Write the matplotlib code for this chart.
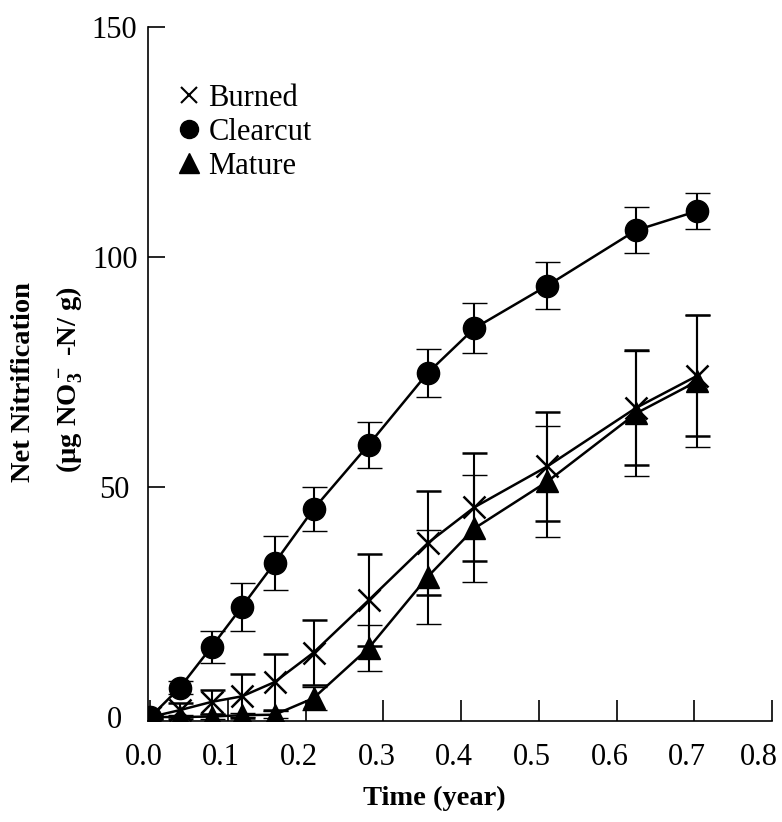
import numpy as np
import matplotlib
matplotlib.use('Agg')
import matplotlib.pyplot as plt
import matplotlib.transforms as mtransforms
from matplotlib.lines import Line2D

plt.rcParams['font.family'] = ['Liberation Serif', 'DejaVu Serif']
plt.rcParams['mathtext.fontset'] = 'custom'
plt.rcParams['mathtext.rm'] = 'Liberation Serif'
plt.rcParams['mathtext.bf'] = 'Liberation Serif:bold'
plt.rcParams['mathtext.default'] = 'bf'

# sampling times (year)
time = [0.0, 0.038, 0.079, 0.118, 0.160, 0.210, 0.281, 0.357, 0.417, 0.511, 0.625, 0.704]

burned = [0, 1.5, 3.3, 4.5, 7.6, 14.0, 25.4, 37.8, 45.6, 54.5, 67.2, 74.2]
burned_err = [0.5, 1.5, 2.6, 4.8, 6.1, 7.0, 10.0, 11.3, 11.7, 11.8, 12.5, 13.2]

clearcut = [0, 6.4, 15.3, 24.0, 33.5, 45.2, 59.2, 74.8, 84.5, 93.8, 105.8, 110.0]
clearcut_err = [0.5, 1.5, 3.5, 5.2, 5.8, 4.8, 5.0, 5.3, 5.4, 5.1, 5.0, 4.0]

mature = [0, 0, 0.1, 0.4, 0.5, 4.1, 15.0, 30.5, 41.0, 51.2, 66.0, 73.0]
mature_err = [0.3, 0.5, 0.5, 0.5, 0.8, 2.5, 5.1, 10.2, 11.7, 12.0, 13.5, 14.3]

x_ticks = [0.0, 0.1, 0.2, 0.3, 0.4, 0.5, 0.6, 0.7, 0.8]
y_ticks = [0, 50, 100, 150]

W, H = 782, 822
fig = plt.figure(figsize=(W / 100, H / 100), dpi=100)
ax = fig.add_axes([148 / W, 1 - 720.7 / H, (772 - 148) / W, (720.7 - 27) / H])

common = dict(color='black', lw=1.8, elinewidth=1.5, capsize=9, capthick=1.5)
ax.errorbar(time, mature, yerr=mature_err, fmt='-^', ms=16, mew=1, **common)
ax.errorbar(time, burned, yerr=burned_err, fmt='-x', ms=16, mew=1.8, **common)
ax.errorbar(time, clearcut, yerr=clearcut_err, fmt='-o', ms=16, mew=1, **common)

ax.set_xlim(-0.003, 0.8)
ax.set_ylim(-0.8, 150)
ax.set_xticks(x_ticks)
ax.set_xticklabels([f'{v:.1f}' for v in x_ticks])
ax.set_yticks(y_ticks)
ax.set_yticklabels([str(v) for v in y_ticks])

for s in ['top', 'right']:
    ax.spines[s].set_visible(False)
for s in ['left', 'bottom']:
    ax.spines[s].set_linewidth(1.2)

ax.tick_params(axis='x', direction='in', length=15, width=1.2, pad=16, labelsize=22)
ax.tick_params(axis='y', direction='in', length=12, width=1.2, pad=24, labelsize=22)
for lab in ax.get_yticklabels():
    lab.set_horizontalalignment('center')
# labels in the scan sit a little left of their ticks
xlabs = ax.get_xticklabels()
for i, lab in enumerate(xlabs):
    dx = -13 if i == len(xlabs) - 1 else -7
    lab.set_transform(lab.get_transform() + mtransforms.ScaledTranslation(dx / 100, 0, fig.dpi_scale_trans))

# legend, markers only
handles = [Line2D([], [], color='black', marker='x', ms=12, mew=1.5, ls='none'),
           Line2D([], [], color='black', marker='o', ms=13, ls='none'),
           Line2D([], [], color='black', marker='^', ms=14, ls='none')]
ax.legend(handles, ['Burned', 'Clearcut', 'Mature'], loc='upper left',
          bbox_to_anchor=(178 / W, 1 - 84 / H), bbox_transform=fig.transFigure,
          frameon=False, fontsize=22, handlelength=0.75, handletextpad=0.25,
          labelspacing=0.16, borderpad=0, borderaxespad=0)

fig.text(434 / W, 1 - 798 / H, 'Time (year)', ha='center', va='center',
         fontsize=20.5, fontweight='bold')
fig.text(24 / W, 1 - 382 / H, 'Net Nitrification', ha='center', va='center',
         rotation=90, fontsize=20.5, fontweight='bold')
fig.text(70 / W, 1 - 380 / H, '(µg NO$_3^-$ -N/ g)', ha='center', va='center',
         rotation=90, fontsize=20.5, fontweight='bold')

fig.savefig('out.png', dpi=100)
